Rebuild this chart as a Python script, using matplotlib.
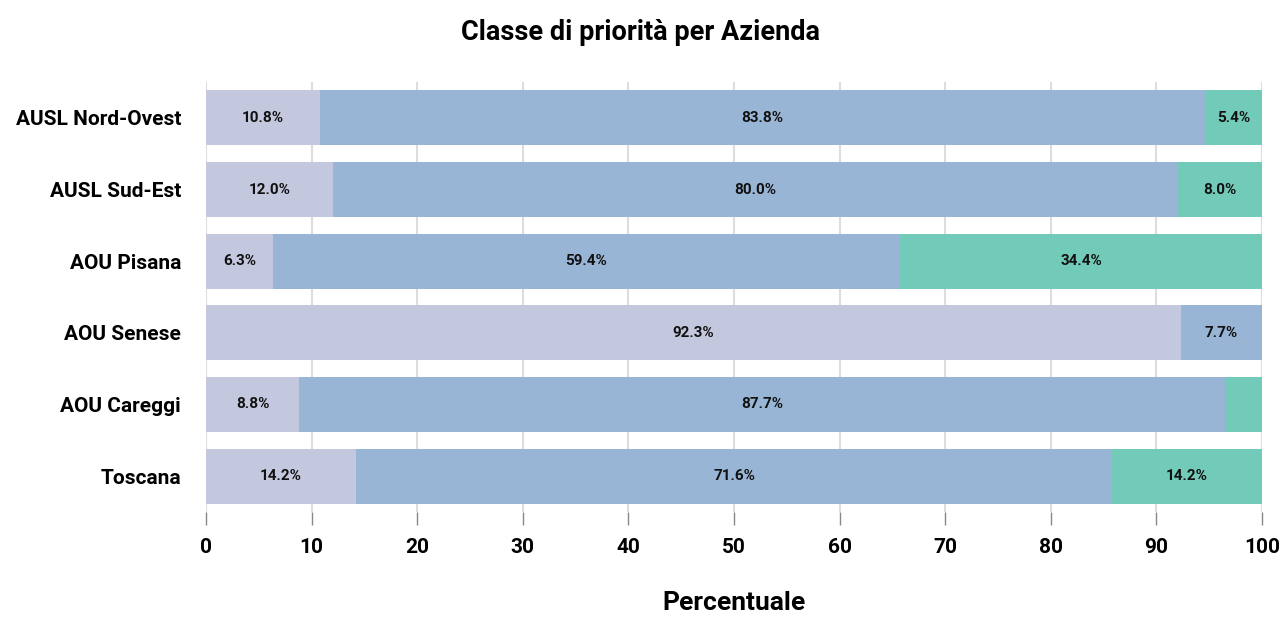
import matplotlib
matplotlib.use("Agg")
import matplotlib.pyplot as plt
import numpy as np

categories = ["AUSL Nord-Ovest", "AUSL Sud-Est", "AOU Pisana", "AOU Senese", "AOU Careggi", "Toscana"]
classe_a = [10.8, 12.0, 6.3, 92.3, 8.8, 14.2]
classe_b = [83.8, 80.0, 59.4, 7.7, 87.7, 71.6]
classe_c = [5.4, 8.0, 34.4, 0.0, 3.5, 14.2]
colors = ["#C4C8DF", "#99B5D6", "#72CAB8"]
xticks = [0, 10, 20, 30, 40, 50, 60, 70, 80, 90, 100]

plt.rcParams['font.family'] = ['Roboto', 'DejaVu Sans']
plt.rcParams['font.weight'] = 'bold'

fig = plt.figure(figsize=(12.81, 6.17), dpi=100)
ax = fig.add_axes([206/1281, 105/617, 1056/1281, 430/617])

y = np.arange(len(categories))
left = np.zeros(len(categories))
for vals, col in zip([classe_a, classe_b, classe_c], colors):
    vals = np.array(vals)
    ax.barh(y, vals, left=left, height=0.77, color=col, zorder=2)
    for yi, l, v in zip(y, left, vals):
        if v >= 5:
            ax.text(l + v / 2, yi, f"{v:.1f}%", ha="center", va="center",
                    fontsize=11, fontweight="bold", color="#111111", zorder=3)
    left = left + vals

ax.set_ylim(len(categories) - 0.5, -0.5)
ax.set_xlim(0, 100)
ax.set_yticks(y)
ax.set_yticklabels(categories, fontsize=15, fontweight="bold")
ax.set_xticks(xticks)
ax.set_xticklabels([str(t) for t in xticks], fontsize=15, fontweight="bold")
ax.tick_params(axis="y", length=0, pad=18)
ax.tick_params(axis="x", length=9, width=1, color="#888888", pad=10)
for s in ax.spines.values():
    s.set_visible(False)
ax.grid(axis="x", color="#DDDDDD", linewidth=1.5, zorder=0)
ax.set_axisbelow(True)
ax.set_xlabel("Percentuale", fontsize=19, fontweight="bold", labelpad=24)
fig.text(0.5, 0.948, "Classe di priorità per Azienda", ha="center", va="center",
         fontsize=19.5, fontweight="bold")

fig.savefig("out.png", dpi=100)
